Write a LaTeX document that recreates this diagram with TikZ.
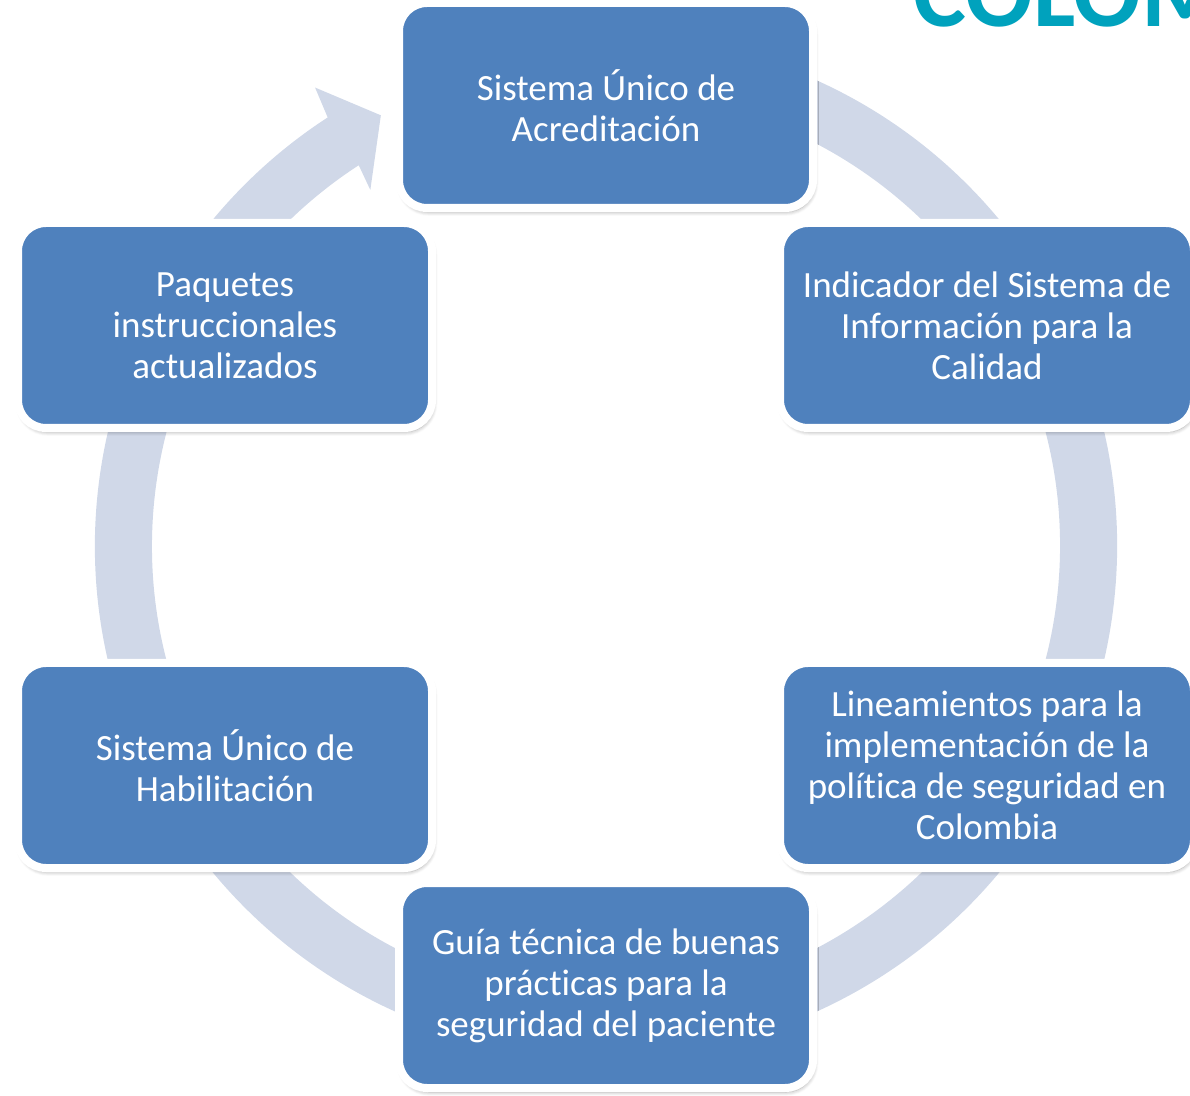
\documentclass[tikz,border=0pt]{standalone}
\usepackage{fontspec}
\setmainfont{Carlito}[Ligatures=NoCommon]
\usetikzlibrary{calc,shadows.blur}
\definecolor{boxblue}{RGB}{79,129,189}
\definecolor{ringc}{RGB}{208,216,232}
\definecolor{teal}{RGB}{0,162,189}
\tikzset{
  cyclebox/.style={rectangle, rounded corners=28pt, draw=white, line width=8pt,
    fill=boxblue, text=white, align=center, minimum width=414pt, minimum height=205pt,
    font=\fontsize{37}{41}\selectfont,
    blur shadow={shadow xshift=1.5pt, shadow yshift=-4pt, shadow blur radius=4pt, shadow blur steps=6, shadow opacity=35}},
  titletext/.style={text=teal, font=\bfseries\fontsize{100}{110}\selectfont, inner sep=0pt, anchor=base west}
}
\begin{document}
\begin{tikzpicture}[x=1pt,y=1pt]
\useasboundingbox (0,0) rectangle (1190,1095);
\coordinate (c) at (606,549);
% title (clipped at the edge, as in the reference)
\node[titletext] (title) at (913,1068) {COLOMBIA};
% cycle ring with arrow
\fill[ringc] ($(c)+(75:511pt)$) arc[start angle=75, end angle=-237, radius=511pt]
  -- ($(c)+(122.4:543pt)$) -- ($(c)+(117.6:486pt)$) -- ($(c)+(123.5:427pt)$)
  -- ($(c)+(123:454pt)$) arc[start angle=-237, end angle=75, radius=454pt] -- cycle;
% boxes
\node[cyclebox] (acr) at (606,989.5) {Sistema Único de\\Acreditación};
\node[cyclebox] (ind) at (987,769.5) {Indicador del Sistema de\\Información para la\\Calidad};
\node[cyclebox] (lin) at (987,329.5) {Lineamientos para la\\implementación de la\\política de seguridad en\\Colombia};
\node[cyclebox] (gui) at (606,109.5) {Guía técnica de buenas\\prácticas para la\\seguridad del paciente};
\node[cyclebox] (hab) at (225,329.5) {Sistema Único de\\Habilitación};
\node[cyclebox] (paq) at (225,769.5) {Paquetes\\instruccionales\\actualizados};
\end{tikzpicture}
\end{document}
